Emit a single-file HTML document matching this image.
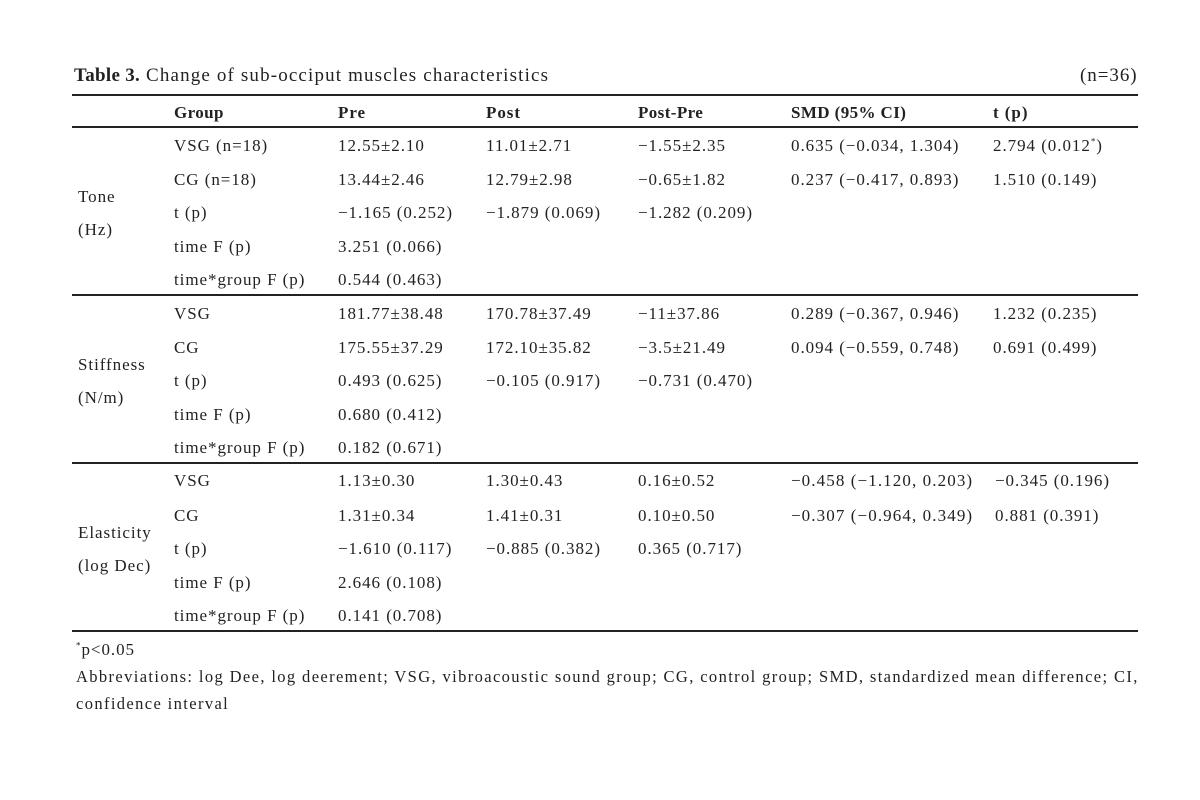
<!DOCTYPE html>
<html><head><meta charset="utf-8"><style>
body{margin:0;width:1200px;height:800px;background:#fff;position:relative;font-family:"Liberation Serif",serif;color:#222;font-size:17px;letter-spacing:0.95px;overflow:hidden}
.t{position:absolute;white-space:nowrap;line-height:1}
.l{position:absolute;left:72px;width:1066px;background:#222}
</style></head><body>
<div class="t" style="left:74px;top:66px;font-size:19px;letter-spacing:1.15px"><b style="letter-spacing:0.3px">Table 3.</b> Change of sub-occiput muscles characteristics</div>
<div class="t" style="left:1080px;top:66px;font-size:19px">(n=36)</div>
<div class="l" style="top:94px;height:2px"></div>
<div class="l" style="top:126px;height:2px"></div>
<div class="l" style="top:294px;height:2px"></div>
<div class="l" style="top:462px;height:2px"></div>
<div class="l" style="top:630px;height:2px"></div>
<div id="c"></div>
<div class="t" style="left:76px;top:641px"><sup style="font-size:9px">*</sup>p&lt;0.05</div>
<div class="t" style="left:76px;top:669px;font-size:16.5px;letter-spacing:1.38px">Abbreviations: log Dee, log deerement; VSG, vibroacoustic sound group; CG, control group; SMD, standardized mean difference; CI,</div>
<div class="t" style="left:76px;top:696px;font-size:16.5px;letter-spacing:1.38px">confidence interval</div>
<script>
var X=[174,338,486,638,791,993];
var rows=[[104,["<b style='letter-spacing:0.4px'>Group</b>","<b>Pre</b>","<b>Post</b>","<b style='letter-spacing:0.4px'>Post-Pre</b>","<b style='letter-spacing:0.4px'>SMD (95% CI)</b>","<b>t (p)</b>"]],
[137,["VSG (n=18)","12.55±2.10","11.01±2.71","−1.55±2.35","0.635 (−0.034, 1.304)","2.794 (0.012<sup style='font-size:9px'>*</sup>)"]],
[171,["CG (n=18)","13.44±2.46","12.79±2.98","−0.65±1.82","0.237 (−0.417, 0.893)","1.510 (0.149)"]],
[204,["t (p)","−1.165 (0.252)","−1.879 (0.069)","−1.282 (0.209)","",""]],
[238,["time F (p)","3.251 (0.066)"]],
[271,["time*group F (p)","0.544 (0.463)"]],
[305,["VSG","181.77±38.48","170.78±37.49","−11±37.86","0.289 (−0.367, 0.946)","1.232 (0.235)"]],
[339,["CG","175.55±37.29","172.10±35.82","−3.5±21.49","0.094 (−0.559, 0.748)","0.691 (0.499)"]],
[372,["t (p)","0.493 (0.625)","−0.105 (0.917)","−0.731 (0.470)"]],
[406,["time F (p)","0.680 (0.412)"]],
[439,["time*group F (p)","0.182 (0.671)"]],
[472,["VSG","1.13±0.30","1.30±0.43","0.16±0.52","−0.458 (−1.120, 0.203)","−0.345 (0.196)"]],
[507,["CG","1.31±0.34","1.41±0.31","0.10±0.50","−0.307 (−0.964, 0.349)","0.881 (0.391)"]],
[540,["t (p)","−1.610 (0.117)","−0.885 (0.382)","0.365 (0.717)"]],
[574,["time F (p)","2.646 (0.108)"]],
[607,["time*group F (p)","0.141 (0.708)"]]];
var h="";
rows.forEach(function(r){r[1].forEach(function(s,i){var x=X[i];if(i==5&&r[0]>=470)x=995;var ls=(i==4&&r[0]>=470)?'letter-spacing:1.1px;':'';h+='<div class="t" style="'+ls+'left:'+x+'px;top:'+r[0]+'px">'+s+'</div>';});});
[[188,"Tone"],[221,"(Hz)"],[356,"Stiffness"],[389,"(N/m)"],[524,"Elasticity"],[557,"(log Dec)"]].forEach(function(a){h+='<div class="t" style="left:78px;top:'+a[0]+'px">'+a[1]+'</div>';});
document.getElementById("c").innerHTML=h;
</script>
</body></html>
